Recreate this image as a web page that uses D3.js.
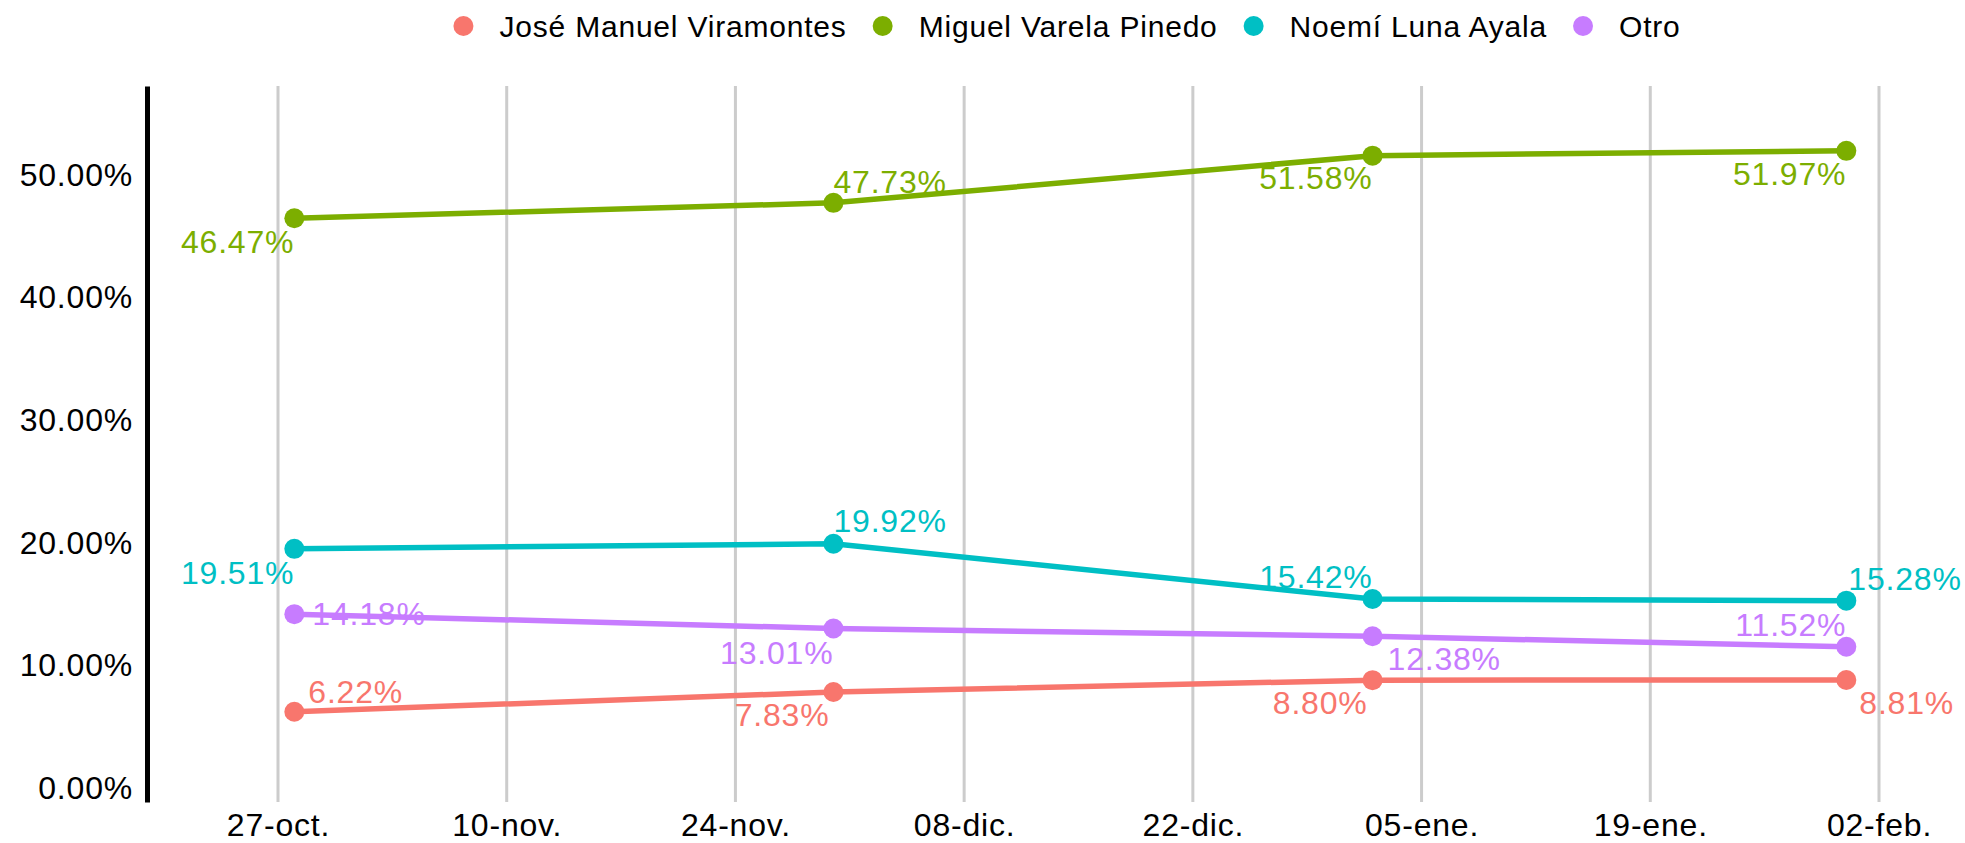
<!DOCTYPE html>
<html>
<head>
<meta charset="utf-8">
<script src="https://cdn.jsdelivr.net/npm/d3@7"></script>
<style>
  body { margin: 0; background: #fff; }
  svg text { font-family: "Liberation Sans", Arial, sans-serif; letter-spacing: 0.8px; }
</style>
</head>
<body>
<svg id="chart" width="1965" height="843"></svg>
<script>
// series and values (percent)
const candidates = ["José Manuel Viramontes", "Miguel Varela Pinedo", "Noemí Luna Ayala", "Otro"];
const colors = ["#F8766D", "#7CAE00", "#00BFC4", "#C77CFF"];
const surveyDates = ["2019-10-28", "2019-11-30", "2020-01-02", "2020-01-31"];
const viramontes = [6.22, 7.83, 8.80, 8.81];
const varela = [46.47, 47.73, 51.58, 51.97];
const luna = [19.51, 19.92, 15.42, 15.28];
const otro = [14.18, 13.01, 12.38, 11.52];

const tickDates = ["2019-10-27", "2019-11-10", "2019-11-24", "2019-12-08", "2019-12-22", "2020-01-05", "2020-01-19", "2020-02-02"];
const tickLabels = ["27-oct.", "10-nov.", "24-nov.", "08-dic.", "22-dic.", "05-ene.", "19-ene.", "02-feb."];
const yTicks = [0, 10, 20, 30, 40, 50];

// where each value label sits next to its point: [anchor, dx, dy]
const labelNudge = [
  [["start", 14, -20], ["end", -4, 23], ["end", -5, 23], ["start", 13, 23]],
  [["end", 0, 24], ["start", 0, -21], ["end", 0, 22], ["end", 0, 23]],
  [["end", 0, 24], ["start", 0, -23], ["end", 0, -22], ["start", 2, -22]],
  [["start", 18, 0], ["end", 0, 24], ["start", 15, 23], ["end", 0, -22]]
];

const parse = d3.utcParse("%Y-%m-%d");
const values = [viramontes, varela, luna, otro];
const series = candidates.map((name, i) => ({
  name,
  color: colors[i],
  points: surveyDates.map((d, j) => ({ date: parse(d), value: values[i][j], nudge: labelNudge[i][j] }))
}));

const svg = d3.select("#chart");
const panelTop = 86, panelBottom = 802, panelLeft = 147;

const x = d3.scaleUtc()
  .domain([parse(tickDates[0]), parse(tickDates[tickDates.length - 1])])
  .range([278, 1879]);
const y = d3.scaleLinear().domain([-1.14, 57.26]).range([panelBottom, panelTop]);

// vertical grid
svg.append("g")
  .selectAll("line")
  .data(tickDates)
  .join("line")
  .attr("x1", (d) => x(parse(d)))
  .attr("x2", (d) => x(parse(d)))
  .attr("y1", panelTop)
  .attr("y2", panelBottom)
  .attr("stroke", "#cccccc")
  .attr("stroke-width", 3);

// y axis
const yAxis = svg.append("g")
  .attr("transform", `translate(${panelLeft},0)`)
  .call(d3.axisLeft(y).tickValues(yTicks).tickFormat((d) => d.toFixed(2) + "%").tickSize(0).tickSizeOuter(0).tickPadding(14));
yAxis.select(".domain").attr("stroke", "#000").attr("stroke-width", 5);
yAxis.selectAll("text").attr("font-size", 32).attr("fill", "#000").style("font-family", "Liberation Sans, Arial, sans-serif");

// x axis
const xAxis = svg.append("g")
  .attr("transform", `translate(0,${panelBottom})`)
  .call(d3.axisBottom(x).tickValues(tickDates.map(parse)).tickFormat((d, i) => tickLabels[i]).tickSize(0).tickPadding(11));
xAxis.select(".domain").remove();
xAxis.selectAll("text").attr("font-size", 32).attr("fill", "#000").style("font-family", "Liberation Sans, Arial, sans-serif");

// lines
const line = d3.line().x((d) => x(d.date)).y((d) => y(d.value));
svg.append("g")
  .selectAll("path")
  .data(series)
  .join("path")
  .attr("d", (s) => line(s.points))
  .attr("fill", "none")
  .attr("stroke", (s) => s.color)
  .attr("stroke-width", 5.5);

// points
svg.append("g")
  .selectAll("g")
  .data(series)
  .join("g")
  .attr("fill", (s) => s.color)
  .selectAll("circle")
  .data((s) => s.points)
  .join("circle")
  .attr("cx", (d) => x(d.date))
  .attr("cy", (d) => y(d.value))
  .attr("r", 10);

// value labels
svg.append("g")
  .selectAll("g")
  .data(series)
  .join("g")
  .attr("fill", (s) => s.color)
  .selectAll("text")
  .data((s) => s.points)
  .join("text")
  .attr("x", (d) => x(d.date) + d.nudge[1])
  .attr("y", (d) => y(d.value) + d.nudge[2])
  .attr("text-anchor", (d) => d.nudge[0])
  .attr("dominant-baseline", "central")
  .attr("font-size", 32)
  .text((d) => d.value.toFixed(2) + "%");

// legend
const legendCenter = 1067, legendY = 26;
const legend = svg.append("g");
const items = legend.selectAll("g")
  .data(series)
  .join("g");
items.append("circle").attr("r", 10).attr("cy", legendY).attr("fill", (s) => s.color);
items.append("text")
  .attr("x", 36)
  .attr("y", legendY)
  .attr("dominant-baseline", "central")
  .attr("font-size", 30)
  .attr("fill", "#000")
  .text((s) => s.name);

let cursor = 0;
items.each(function () {
  const w = d3.select(this).select("text").node().getComputedTextLength();
  d3.select(this).attr("transform", `translate(${cursor},0)`);
  cursor += 36 + w + 36;
});
const legendWidth = cursor - 36 + 10;
legend.attr("transform", `translate(${legendCenter - legendWidth / 2 + 10},0)`);
</script>
</body>
</html>
